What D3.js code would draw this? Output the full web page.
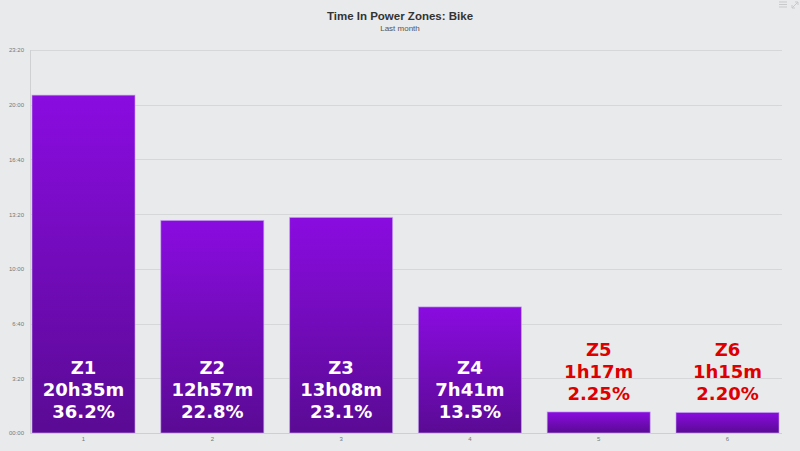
<!DOCTYPE html>
<html><head><meta charset="utf-8">
<script src="https://cdn.jsdelivr.net/npm/d3@7"></script>
<style>
html,body{margin:0;padding:0;background:#e9eaec;}
svg{display:block;font-family:"Liberation Sans",Arial,sans-serif;}
</style></head>
<body>
<svg id="chart" width="800" height="451"></svg>
<script>
const categories = ["1","2","3","4","5","6"];
const zones = ["Z1","Z2","Z3","Z4","Z5","Z6"];
const minutes = [1235, 777, 788, 461, 77, 75];
const durationLabels = ["20h35m","12h57m","13h08m","7h41m","1h17m","1h15m"];
const percentLabels = ["36.2%","22.8%","23.1%","13.5%","2.25%","2.20%"];
const yTickValues = [0,200,400,600,800,1000,1200,1400];
const yTickLabels = ["00:00","3:20","6:40","10:00","13:20","16:40","20:00","23:20"];

const svg = d3.select("#chart");
svg.append("rect").attr("width",800).attr("height",451).attr("fill","#e9eaec");

const defs = svg.append("defs");
const grad = defs.append("linearGradient").attr("id","barGrad")
  .attr("x1",0).attr("y1",0).attr("x2",0).attr("y2",1);
grad.append("stop").attr("offset","0%").attr("stop-color","#8a0ce0");
grad.append("stop").attr("offset","100%").attr("stop-color","#5a0a94");

const plotLeft = 30, plotRight = 782, plotTop = 50, plotBottom = 433;

const x = d3.scaleBand().domain(categories).range([19.1, 791.9])
  .paddingInner(0.2).paddingOuter(0.1);
const y = d3.scaleLinear().domain([0,1400]).range([plotBottom, plotTop]);

// title
svg.append("text").attr("x",400).attr("y",20).attr("text-anchor","middle")
  .attr("font-size",11.5).attr("font-weight","bold").attr("fill","#333")
  .text("Time In Power Zones: Bike");
svg.append("text").attr("x",400).attr("y",31).attr("text-anchor","middle")
  .attr("font-size",8).attr("fill","#555").text("Last month");

// gridlines
svg.append("g").selectAll("line").data(yTickValues.slice(1)).join("line")
  .attr("x1",plotLeft).attr("x2",plotRight)
  .attr("y1",d=>Math.round(y(d))+0.5).attr("y2",d=>Math.round(y(d))+0.5)
  .attr("stroke","#d6d7d9").attr("stroke-width",1);

// y axis labels
const yAxis = d3.axisLeft(y).tickValues(yTickValues)
  .tickFormat((d,i)=>yTickLabels[i]).tickSize(0).tickPadding(6);
const gy = svg.append("g").attr("transform",`translate(${plotLeft},0)`).call(yAxis);
gy.select(".domain").remove();
gy.selectAll("text").attr("font-size",6).attr("fill","#777")
  .attr("font-family","'Liberation Sans',Arial,sans-serif");

// y axis line
svg.append("line").attr("x1",plotLeft+0.5).attr("x2",plotLeft+0.5)
  .attr("y1",plotTop).attr("y2",plotBottom).attr("stroke","#cfd0d2");

// bars
svg.append("g").selectAll("rect").data(minutes).join("rect")
  .attr("x",(d,i)=>x(categories[i]))
  .attr("width",x.bandwidth())
  .attr("y",d=>y(d))
  .attr("height",d=>plotBottom - y(d))
  .attr("fill","url(#barGrad)")
  .attr("stroke","rgba(200,170,240,0.6)").attr("stroke-width",1);

// baseline
svg.append("line").attr("x1",plotLeft).attr("x2",plotRight)
  .attr("y1",plotBottom+0.5).attr("y2",plotBottom+0.5).attr("stroke","#cdcfd2");

// x axis labels
const xAxis = d3.axisBottom(x).tickSize(0).tickPadding(4);
const gx = svg.append("g").attr("transform",`translate(0,${plotBottom})`).call(xAxis);
gx.select(".domain").remove();
gx.selectAll("text").attr("font-size",6).attr("fill","#777")
  .attr("font-family","'Liberation Sans',Arial,sans-serif");

// data labels
const lineH = 22, labelH = lineH*3;
const isInside = d => (plotBottom - y(d)) > labelH + 20;
const labels = svg.append("g").selectAll("g").data(minutes).join("g")
  .attr("transform",(d,i)=>{
    const cx = x(categories[i]) + x.bandwidth()/2;
    const bottomY = isInside(d) ? plotBottom - 15 : y(d) - 12;
    return `translate(${cx},${bottomY})`;
  });
labels.each(function(d,i){
  const g = d3.select(this);
  const color = isInside(d) ? "#ffffff" : "#dd0000";
  const lines = [zones[i], durationLabels[i], percentLabels[i]];
  lines.forEach((t,k)=>{
    g.append("text").attr("x",0).attr("y",-(2-k)*lineH)
      .attr("text-anchor","middle")
      .attr("font-family","'DejaVu Sans',Verdana,sans-serif")
      .attr("font-weight","bold").attr("font-size",18)
      .attr("fill",color).text(t);
  });
});

// menu icons
const icons = svg.append("g").attr("stroke","#c8c9cb").attr("stroke-width",1);
[2,4.5,7].forEach(v=>icons.append("line").attr("x1",779).attr("x2",787).attr("y1",v).attr("y2",v));
icons.append("line").attr("x1",792).attr("y1",8).attr("x2",798).attr("y2",2);
icons.append("path").attr("d","M795,2 L798,2 L798,5").attr("fill","none");
icons.append("path").attr("d","M792,5 L792,8 L795,8").attr("fill","none");
</script>
</body></html>
